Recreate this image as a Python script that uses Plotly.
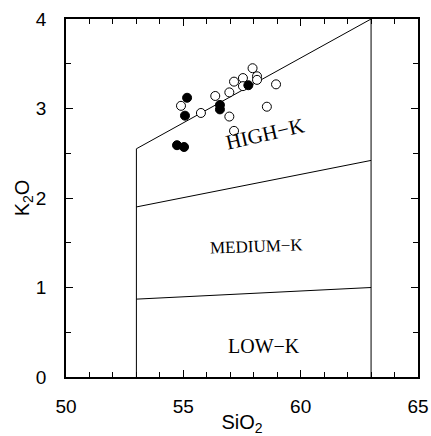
import plotly.graph_objects as go

# Data
open_sio2 = [54.90, 55.75, 56.36, 56.96, 57.16, 56.96, 57.16, 57.54, 57.54, 57.95, 58.14, 58.14, 58.95, 58.56]
open_k2o = [3.03, 2.95, 3.14, 3.18, 3.30, 2.91, 2.75, 3.34, 3.25, 3.45, 3.36, 3.32, 3.27, 3.02]
filled_sio2 = [55.16, 55.07, 56.56, 56.56, 57.77, 54.73, 55.03]
filled_k2o = [3.12, 2.92, 3.04, 2.99, 3.26, 2.59, 2.57]

# Field boundaries
left_x = [53, 53]
left_y = [0, 2.55]
right_x = [63, 63]
right_y = [0, 4.0]
highk_x = [53, 63]
highk_y = [2.55, 4.0]
medk_x = [53, 63]
medk_y = [1.90, 2.42]
lowk_x = [53, 63]
lowk_y = [0.87, 1.00]

field_labels = ["HIGH−K", "MEDIUM−K", "LOW−K"]
label_x = [58.48, 58.12, 58.44]
label_y = [2.72, 1.46, 0.35]
label_angle = [-13, -2, 0]
label_size = [21, 17, 20]

x_ticks = [50, 55, 60, 65]
x_ticktext = ["50", "55", "60", "65"]
y_ticks = [0, 1, 2, 3, 4]

fig = go.Figure()
line_style = dict(color="black", width=1)
for xs, ys in [(left_x, left_y), (right_x, right_y), (highk_x, highk_y), (medk_x, medk_y), (lowk_x, lowk_y)]:
    fig.add_trace(go.Scatter(x=xs, y=ys, mode="lines", line=line_style, showlegend=False, hoverinfo="skip"))

fig.add_trace(go.Scatter(x=open_sio2, y=open_k2o, mode="markers",
                         marker=dict(symbol="circle", size=9, color="white", line=dict(color="black", width=1)),
                         showlegend=False))
fig.add_trace(go.Scatter(x=filled_sio2, y=filled_k2o, mode="markers",
                         marker=dict(symbol="circle", size=9, color="black", line=dict(color="black", width=1)),
                         showlegend=False))

for t, x, y, a, s in zip(field_labels, label_x, label_y, label_angle, label_size):
    fig.add_annotation(x=x, y=y, text=t, showarrow=False, textangle=a,
                       font=dict(family="Liberation Serif", size=s, color="black"))

axis_common = dict(showgrid=False, zeroline=False, showline=True, linecolor="black", linewidth=1.5,
                   mirror="allticks", ticks="inside", ticklen=7, tickcolor="black", tickwidth=1,
                   automargin=False,
                   tickfont=dict(family="Liberation Sans", size=19, color="black"))

fig.update_xaxes(range=[50, 65], tickvals=x_ticks, ticktext=x_ticktext,
                 minor=dict(dtick=1, ticks="inside", ticklen=5, tickcolor="black"),
                 title=dict(text="SiO<sub>2</sub>", font=dict(family="Liberation Sans", size=20, color="black"), standoff=0),
                 ticklabelstandoff=11, **axis_common)
fig.update_yaxes(range=[0, 4], tickvals=y_ticks,
                 minor=dict(dtick=0.5, ticks="inside", ticklen=5, tickcolor="black"),
                 title=dict(text="K<sub>2</sub>O", font=dict(family="Liberation Sans", size=20, color="black"), standoff=0),
                 ticklabelstandoff=14, **axis_common)

fig.update_layout(width=431, height=436, margin=dict(l=66, r=13, t=19, b=59),
                  plot_bgcolor="white", paper_bgcolor="white")

fig.write_html("out.html")
